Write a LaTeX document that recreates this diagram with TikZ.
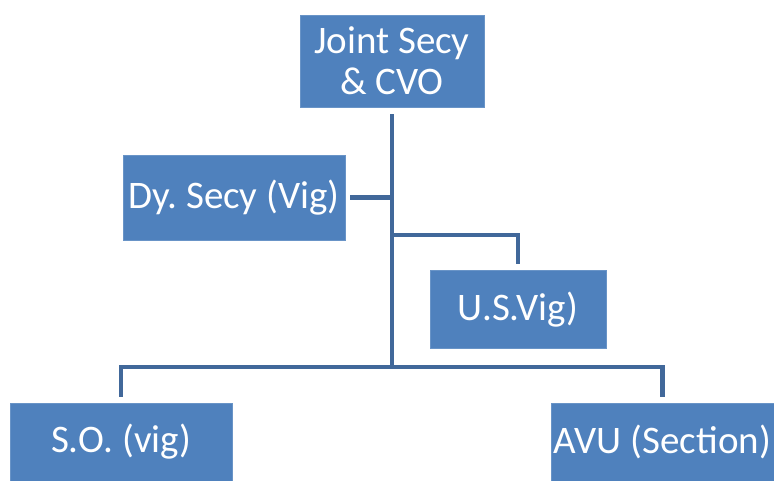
\documentclass[tikz,border=0pt]{standalone}
\usepackage{fontspec}
\setmainfont{Carlito}
\frenchspacing
\usetikzlibrary{positioning}
\definecolor{boxblue}{RGB}{79,129,189}
\definecolor{lineblue}{RGB}{65,104,154}
\tikzset{
  orgbox/.style={draw=boxblue!85!white, line width=0.8pt, fill=boxblue, text=white, align=center, inner sep=0pt, font=\fontsize{39}{41}\selectfont},
  orgline/.style={draw=lineblue, line width=4.5pt}
}
\begin{document}
\begin{tikzpicture}[x=1pt, y=-1pt]
  \useasboundingbox (0,0) rectangle (774,481);
  \node[orgbox, minimum width=184pt, minimum height=92pt] (jsecy) at (392,61) {Joint Secy\\\& CVO};
  \node[orgbox, minimum width=222pt, minimum height=85pt] (dysecy) at (234,197.5) {Dy. Secy (Vig)};
  \node[orgbox, minimum width=176pt, minimum height=78pt] (usvig) at (518,309.5) {U.S.Vig)};
  \node[orgbox, minimum width=222pt, minimum height=78pt] (sovig) at (121,442) {S.O. (vig)};
  \node[orgbox, minimum width=223pt, minimum height=78pt] (avu) at (662.5,442) {AVU (Section)};
  \coordinate (hub) at (392,367);
  \coordinate (usjoint) at (392,235);
  \draw[orgline] ([yshift=-7pt]jsecy.south) -- (hub);
  \draw[orgline] ([xshift=5pt]dysecy.east) -- (dysecy.east -| hub);
  \draw[orgline] (usjoint) -| ([yshift=6pt]usvig.north);
  \draw[orgline] ([yshift=6pt]sovig.north) |- (hub) -| ([yshift=6pt]avu.north);
\end{tikzpicture}
\end{document}
